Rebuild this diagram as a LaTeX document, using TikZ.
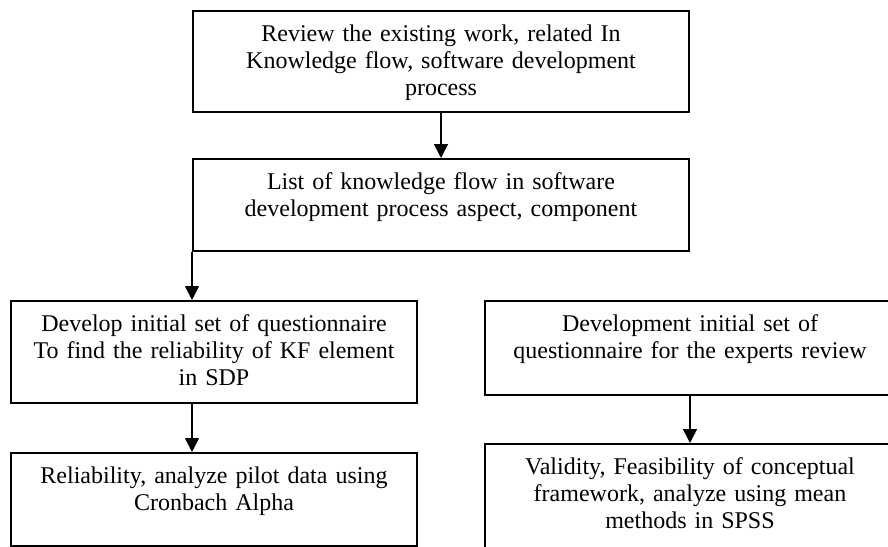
\documentclass[tikz,border=0pt]{standalone}
\usepackage{fontspec}
\setmainfont{Liberation Serif}
\usetikzlibrary{arrows.meta}

\begin{document}
\begin{tikzpicture}[x=1pt, y=-1pt, ->, >={Triangle[length=14pt, width=14pt]}, line width=1.6pt,
    stepbox/.style={draw, line width=2pt, align=center, anchor=north, inner xsep=5pt, inner ysep=14pt,
      text height=16pt, font=\fontsize{24}{27}\selectfont}]
    \clip (0,0) rectangle (888,546);

    \node[stepbox, text width=486pt, text depth=57pt] at (441, 10) (review) {Review the existing work, related In\\Knowledge flow, software development\\process};
    \node[stepbox, text width=486pt, text depth=48pt] at (441, 158) (list) {List of knowledge flow in software\\development process aspect, component};

    \node[stepbox, text width=396pt, text depth=58pt] at (214, 300) (develop) {Develop initial set of questionnaire\\To find the reliability of KF element\\in SDP};
    \node[stepbox, text width=396pt, text depth=49pt] at (214, 452) (reliab) {Reliability, analyze pilot data using\\Cronbach Alpha};

    \node[stepbox, text width=400pt, text depth=50pt] at (690, 300) (expert) {Development initial set of\\questionnaire for the experts review};
    \node[stepbox, text width=400pt, text depth=73pt] at (690, 443) (validity) {Validity, Feasibility of conceptual\\framework, analyze using mean\\methods in SPSS};

    \draw (review) -- (list);
    \draw (list.south west) -- (list.south west |- develop.north);
    \draw (list.south west |- develop.south) -- (list.south west |- reliab.north);
    \draw (expert) -- (validity);
  \end{tikzpicture}
\end{document}
